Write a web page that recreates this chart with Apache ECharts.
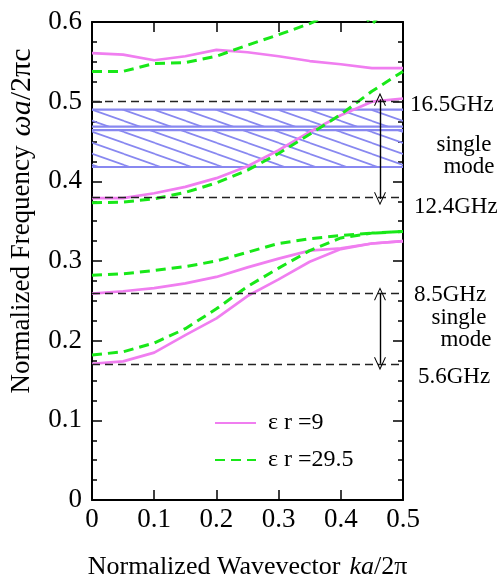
<!DOCTYPE html>
<html><head><meta charset="utf-8">
<script src="https://cdn.jsdelivr.net/npm/echarts@6/dist/echarts.min.js"></script>
<style>html,body{margin:0;padding:0;background:#fff}#c{width:502px;height:576px}</style>
</head><body><div id="c"></div>
<script>
// ---- data ----
const kValues = [0, 0.05, 0.1, 0.15, 0.2, 0.25, 0.3, 0.35, 0.4, 0.45, 0.5];
const er9Band1 = [0.171, 0.174, 0.185, 0.207, 0.228, 0.256, 0.277, 0.299, 0.315, 0.322, 0.325];
const er9Band2 = [0.259, 0.262, 0.266, 0.272, 0.280, 0.292, 0.303, 0.313, 0.316, 0.322, 0.325];
const er9Band3 = [0.379, 0.379, 0.385, 0.393, 0.404, 0.419, 0.439, 0.462, 0.483, 0.500, 0.504];
const er9Band4 = [0.561, 0.559, 0.552, 0.557, 0.565, 0.562, 0.557, 0.551, 0.547, 0.542, 0.542];
const er295Band1 = [0.182, 0.186, 0.197, 0.215, 0.240, 0.268, 0.291, 0.313, 0.329, 0.335, 0.337];
const er295Band2 = [0.282, 0.284, 0.288, 0.293, 0.300, 0.311, 0.322, 0.328, 0.332, 0.335, 0.337];
const er295Band3 = [0.373, 0.374, 0.378, 0.386, 0.398, 0.414, 0.435, 0.459, 0.484, 0.513, 0.538];
const er295Band4 = [0.538, 0.538, 0.548, 0.549, 0.557, 0.571, 0.584, 0.598, 0.615, 0.630, 0.640];
const er295Band5 = [null, null, null, null, null, null, null, null, 0.640, 0.597, 0.640];
const bandGaps = [[0.418, 0.4644], [0.4686, 0.490]];
const freqLines = [0.503, 0.378, 0.259, 0.171];
const arrowK = 0.463;
const arrowRanges = [[0.378, 0.503], [0.171, 0.259]];
const xTickLabels = ['0', '0.1', '0.2', '0.3', '0.4', '0.5'];
const yTickLabels = ['0', '0.1', '0.2', '0.3', '0.4', '0.5', '0.6'];
const seriesNames = ['\u03b5 r =9', '\u03b5 r =29.5'];

// ---- styling ----
const FONT = 'Liberation Serif';
const PINK = '#f07ef0';
const GREEN = '#18e818';
const HATCH = '#8888f0';

const toPts = arr => kValues.map((k, i) => [k, arr[i]]).filter(p => p[1] !== null);

const hatch = (function () {
  const W = 31, H = 11;
  const cv = document.createElement('canvas');
  cv.width = W; cv.height = H;
  const ctx = cv.getContext('2d');
  ctx.strokeStyle = HATCH; ctx.lineWidth = 1.7;
  for (const dx of [-W, 0, W]) for (const dy of [-H, 0, H]) {
    ctx.beginPath(); ctx.moveTo(dx, dy); ctx.lineTo(dx + W, dy + H); ctx.stroke();
  }
  return cv;
})();

const chevron = 'path://M6,0 L12,13 L10.9,13 L6,2.4 L1.1,13 L0,13 Z';

function lineSeries(name, arr, color, dashed) {
  return {
    type: 'line', name: name, data: toPts(arr), symbol: 'none', z: 3,
    lineStyle: { color: color, width: dashed ? 3 : 2.7, type: dashed ? [10, 6] : 'solid' },
    itemStyle: { color: color },
    clip: true, silent: true, animation: false
  };
}

const chart = echarts.init(document.getElementById('c'), null, { renderer: 'canvas' });

const axisLine = { show: true, onZero: false, lineStyle: { color: '#000', width: 2 } };
const tickStyle = { color: '#000', width: 1.5 };
const txt = (size, extra) => Object.assign({ fontFamily: FONT, fontSize: size, color: '#000' }, extra || {});

const annot = (text, x, y, align) => ({
  type: 'text', x: x, y: y, silent: true,
  style: { text: text, fontSize: 23, fontFamily: FONT, fill: '#000',
    textAlign: align || 'left', textVerticalAlign: 'middle' }
});

chart.setOption({
  animation: false,
  backgroundColor: '#fff',
  textStyle: { fontFamily: FONT },
  grid: { left: 92, top: 22, width: 311, height: 478, containLabel: false, outerBoundsMode: 'none' },
  xAxis: [{
    type: 'value', min: 0, max: 0.5, interval: 0.1, position: 'bottom',
    axisLine: axisLine,
    axisTick: { inside: true, length: 10, lineStyle: tickStyle },
    axisLabel: Object.assign(txt(27), { margin: 6, formatter: v => xTickLabels[Math.round(v * 10)] }),
    splitLine: { show: false },
    name: '{n|Normalized Wavevector}   {i|ka}{n|/2\u03c0}',
    nameLocation: 'middle', nameGap: 54,
    nameTextStyle: { rich: { n: txt(26), i: txt(26, { fontStyle: 'italic' }) } }
  }, {
    type: 'value', min: 0, max: 0.5, interval: 0.1, position: 'top',
    axisLine: axisLine,
    axisTick: { inside: true, length: 10, lineStyle: tickStyle },
    axisLabel: { show: false }, splitLine: { show: false }
  }],
  yAxis: [{
    type: 'value', min: 0, max: 0.6, interval: 0.1, position: 'left',
    axisLine: axisLine,
    axisTick: { inside: true, length: 10, lineStyle: tickStyle },
    minorTick: { show: true, splitNumber: 4, length: 5, lineStyle: tickStyle },
    axisLabel: Object.assign(txt(27), { margin: 10, formatter: v => yTickLabels[Math.round(v * 10)] }),
    splitLine: { show: false }, minorSplitLine: { show: false },
    name: '{n|Normalized Frequency}   {i|\u03c9a}{m|/2\u03c0c}',
    nameLocation: 'middle', nameGap: 52, nameRotate: 90,
    nameTextStyle: { padding: [0, 0, 0, 80], rich: {
      n: txt(27), i: txt(30, { fontStyle: 'italic' }), m: txt(30) } }
  }, {
    type: 'value', min: 0, max: 0.6, interval: 0.1, position: 'right',
    axisLine: axisLine,
    axisTick: { inside: true, length: 10, lineStyle: tickStyle },
    minorTick: { show: true, splitNumber: 4, length: 5, lineStyle: tickStyle },
    axisLabel: { show: false }, splitLine: { show: false }
  }],
  legend: {
    data: seriesNames, orient: 'vertical', left: 209, top: 406,
    itemWidth: 41, itemHeight: 14, itemGap: 13,
    itemStyle: { opacity: 0, borderWidth: 0 },
    textStyle: txt(24, { padding: [0, 0, 0, 7] }),
    selectedMode: false
  },
  series: [
    {
      type: 'custom', name: 'gap', silent: true, z: 1,
      data: bandGaps.map(b => [kValues[0], kValues[kValues.length - 1], b[0], b[1]]),
      encode: { x: [0, 1], y: [2, 3] },
      renderItem: function (params, api) {
        const tl = api.coord([api.value(0), api.value(3)]);
        const br = api.coord([api.value(1), api.value(2)]);
        const ls = { stroke: HATCH, lineWidth: 2.2 };
        return { type: 'group', children: [
          { type: 'rect', shape: { x: tl[0], y: tl[1], width: br[0] - tl[0], height: br[1] - tl[1] },
            style: { fill: { image: hatch, repeat: 'repeat' } } },
          { type: 'line', shape: { x1: tl[0], y1: tl[1], x2: br[0], y2: tl[1] }, style: ls },
          { type: 'line', shape: { x1: tl[0], y1: br[1], x2: br[0], y2: br[1] }, style: ls }
        ] };
      }
    },
    {
      type: 'line', name: 'guides', data: [], silent: true, z: 2,
      markLine: {
        silent: true, symbol: 'none', animation: false,
        label: { show: false },
        lineStyle: { color: '#222', width: 1.4, type: [8, 5] },
        data: freqLines.map(v => ({ yAxis: v }))
      }
    },
    {
      type: 'line', name: 'arrows', data: [], silent: true, z: 4,
      markLine: {
        silent: true, symbol: [chevron, chevron], symbolSize: [12, 13], animation: false,
        label: { show: false },
        lineStyle: { color: '#000', width: 1.4, type: 'solid' },
        data: arrowRanges.map(r => [{ coord: [arrowK, r[0]] }, { coord: [arrowK, r[1]] }])
      }
    },
    lineSeries(seriesNames[0], er9Band1, PINK, false),
    lineSeries(seriesNames[0], er9Band2, PINK, false),
    lineSeries(seriesNames[0], er9Band3, PINK, false),
    lineSeries(seriesNames[0], er9Band4, PINK, false),
    lineSeries(seriesNames[1], er295Band1, GREEN, true),
    lineSeries(seriesNames[1], er295Band2, GREEN, true),
    lineSeries(seriesNames[1], er295Band3, GREEN, true),
    lineSeries(seriesNames[1], er295Band4, GREEN, true),
    lineSeries(seriesNames[1], er295Band5, GREEN, true)
  ],
  graphic: [
    annot('16.5GHz', 410, 105),
    annot('single', 464, 145, 'center'),
    annot('mode', 469, 167, 'center'),
    annot('12.4GHz', 414, 207),
    annot('8.5GHz', 414, 295),
    annot('single', 459, 318, 'center'),
    annot('mode', 466, 340, 'center'),
    annot('5.6GHz', 418, 377)
  ]
});
</script>
</body></html>
